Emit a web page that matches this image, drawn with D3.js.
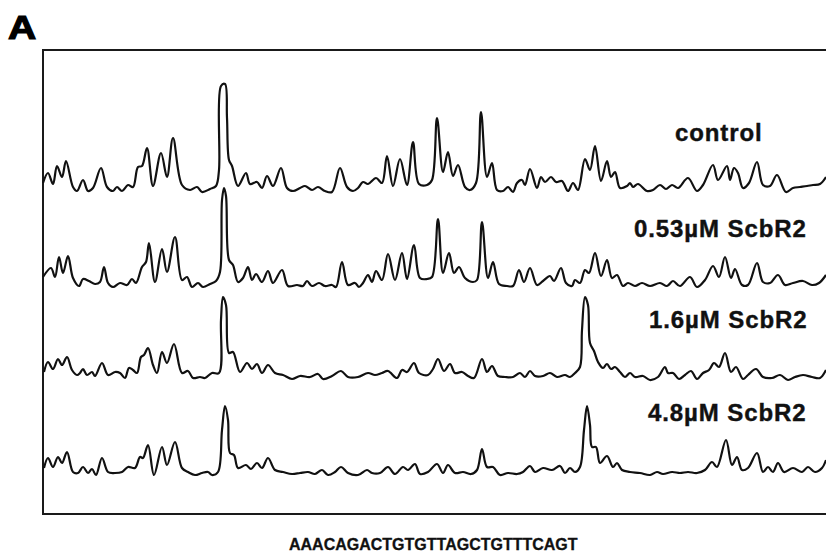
<!DOCTYPE html>
<html>
<head>
<meta charset="utf-8">
<script src="https://cdn.jsdelivr.net/npm/d3@7"></script>
<style>
  body { margin: 0; background: #fff; }
  svg { display: block; font-family: "Liberation Sans", Arial, sans-serif; }
</style>
</head>
<body>
<div id="chart"></div>
<script>
// trace labels (top to bottom)
const labels = ["control", "0.53\u00b5M ScbR2", "1.6\u00b5M ScbR2", "4.8\u00b5M ScbR2"];
const sequence = "AAACAGACTGTGTTAGCTGTTTCAGT";

// traces: [scan position, signal]
const control = [[0,12],[5,22],[10,11],[14,29],[19,18],[23,34],[30,8],[34,4],[40,15],[45,4],[50,7],[58,27],[64,8],[70,4],[74,8],[79,4],[85,10],[90,8],[95,28],[99,29],[104,47],[110,9],[118,42],[124,18],[130,57],[139,10],[147,5],[154,8],[159,3],[167,6],[173,9],[176,25],[178,109],[182,111],[184,77],[186,35],[189,29],[195,9],[203,22],[207,11],[214,13],[219,7],[224,19],[230,9],[238,27],[244,7],[250,4],[257,7],[262,9],[269,5],[275,8],[282,4],[289,3],[297,27],[304,8],[310,4],[315,7],[320,13],[325,11],[333,17],[339,12],[344,39],[350,9],[357,36],[364,10],[370,53],[376,11],[384,10],[389,15],[394,77],[400,23],[405,43],[410,19],[415,30],[422,8],[427,5],[433,12],[438,83],[444,18],[449,32],[454,5],[460,4],[465,8],[470,3],[474,12],[479,15],[482,10],[487,26],[494,7],[498,18],[502,13],[508,18],[513,13],[519,14],[525,4],[530,12],[535,5],[542,36],[547,25],[552,49],[558,14],[564,34],[568,18],[572,23],[577,7],[584,9],[587,12],[590,8],[595,11],[604,4],[610,5],[617,10],[623,6],[629,10],[635,7],[645,17],[654,4],[660,10],[670,30],[675,15],[684,29],[687,15],[691,27],[695,22],[700,7],[706,12],[714,33],[720,10],[727,9],[734,20],[743,3],[750,7],[757,8],[764,9],[770,10],[777,11],[783,18]];

const scbr053 = [[0,13],[8,22],[12,13],[16,33],[20,17],[25,34],[30,12],[36,4],[40,11],[46,9],[52,6],[57,8],[61,23],[65,7],[70,3],[77,7],[84,5],[89,11],[93,7],[99,23],[103,28],[106,47],[112,8],[119,41],[124,18],[132,53],[139,10],[144,13],[149,3],[155,7],[160,3],[167,6],[173,9],[177,18],[179,90],[181,102],[183,94],[186,30],[190,25],[195,8],[200,12],[205,23],[209,10],[213,16],[219,8],[225,19],[230,7],[239,20],[245,4],[254,5],[260,4],[264,9],[269,4],[276,7],[282,4],[289,5],[293,3],[299,28],[305,5],[312,7],[316,3],[320,7],[325,15],[329,8],[333,19],[339,10],[345,36],[352,10],[359,37],[364,11],[371,45],[377,12],[384,11],[389,13],[395,71],[400,17],[406,37],[411,17],[416,23],[422,12],[430,8],[434,10],[439,68],[445,12],[450,28],[456,6],[464,4],[470,4],[476,20],[481,8],[487,22],[494,5],[500,9],[507,14],[511,9],[518,22],[523,7],[529,4],[532,10],[537,7],[542,20],[546,17],[552,37],[558,14],[564,30],[569,12],[574,15],[580,4],[585,7],[592,4],[599,7],[607,4],[617,7],[624,4],[630,9],[637,4],[647,13],[654,3],[662,10],[670,24],[676,13],[682,33],[688,12],[692,21],[699,5],[705,5],[714,27],[720,8],[727,7],[735,15],[742,5],[750,7],[760,9],[769,5],[776,7],[783,15]];

const scbr16 = [[1,11],[5,21],[10,14],[15,24],[19,18],[24,26],[29,13],[34,8],[37,10],[40,14],[44,8],[49,11],[52,7],[59,20],[65,8],[72,11],[77,10],[82,5],[86,15],[90,13],[94,10],[98,26],[101,28],[105,35],[110,18],[114,10],[119,31],[124,20],[131,39],[139,10],[145,12],[150,5],[157,6],[162,5],[169,10],[176,10],[178,63],[180,86],[183,78],[186,30],[190,31],[197,11],[204,20],[209,14],[214,19],[219,10],[225,18],[232,10],[240,8],[249,4],[257,7],[267,6],[275,9],[280,4],[289,7],[298,12],[305,6],[315,6],[325,10],[332,8],[339,10],[345,12],[354,5],[359,13],[364,11],[371,20],[376,10],[385,8],[390,14],[395,24],[401,12],[407,19],[412,10],[419,11],[425,7],[431,5],[439,24],[444,11],[449,17],[455,7],[462,6],[470,6],[477,10],[482,6],[487,12],[492,7],[500,7],[507,10],[514,6],[522,8],[527,6],[532,10],[537,16],[539,53],[542,86],[545,78],[547,40],[551,32],[555,21],[560,15],[564,19],[568,14],[572,16],[577,11],[582,6],[587,10],[592,6],[600,7],[607,3],[615,6],[622,16],[625,10],[630,10],[636,4],[642,8],[648,12],[654,4],[660,10],[666,13],[671,20],[676,16],[682,30],[688,11],[693,16],[700,4],[705,8],[713,14],[720,6],[729,5],[737,8],[745,3],[752,6],[760,8],[769,6],[777,5],[783,13]];

const scbr48 = [[1,10],[5,20],[10,11],[15,21],[19,15],[24,26],[30,6],[35,5],[40,11],[45,5],[49,9],[53,3],[59,20],[65,6],[72,5],[79,6],[85,11],[92,10],[97,21],[100,20],[105,33],[111,3],[119,31],[124,13],[132,36],[139,10],[145,6],[152,3],[159,5],[165,6],[169,3],[175,6],[179,48],[182,72],[185,58],[187,25],[191,23],[195,10],[203,13],[208,9],[214,15],[219,10],[225,20],[232,8],[240,6],[249,4],[257,5],[265,6],[272,4],[279,8],[285,3],[292,6],[298,11],[305,5],[315,3],[324,8],[329,5],[337,5],[345,11],[352,4],[360,11],[365,8],[372,14],[377,4],[385,6],[394,14],[400,5],[405,13],[412,5],[420,6],[428,4],[434,8],[439,29],[444,11],[450,11],[457,3],[465,5],[474,4],[480,6],[487,12],[492,6],[500,10],[509,8],[517,12],[522,5],[527,10],[532,6],[537,11],[541,48],[544,72],[547,53],[549,31],[553,31],[557,15],[564,22],[570,11],[574,15],[579,8],[587,6],[597,5],[607,3],[614,6],[620,4],[629,6],[637,5],[645,6],[654,5],[662,8],[669,16],[674,11],[683,38],[689,13],[694,21],[699,8],[705,10],[714,25],[720,6],[725,11],[730,6],[735,15],[741,6],[750,10],[759,6],[765,11],[772,6],[779,10],[783,18]];

const traces = [control, scbr053, scbr16, scbr48];

// layout
const W = 826, H = 553;
const box = {left: 43, top: 50, right: 832, bottom: 514};
const baselines = [195, 290, 383, 478];
const labelPos = [[675, 141], [634, 237], [649, 328], [648, 421]];

const svg = d3.select("#chart").append("svg")
    .attr("width", W)
    .attr("height", H);

// panel letter, wide and heavy like the original
svg.append("text")
    .attr("transform", "translate(8,39) scale(1.15,1)")
    .attr("font-size", 34).attr("font-weight", "bold")
    .attr("stroke", "#000").attr("stroke-width", 1.2)
    .text("A");

// frame
svg.append("rect")
    .attr("x", box.left).attr("y", box.top)
    .attr("width", box.right - box.left).attr("height", box.bottom - box.top)
    .attr("fill", "none").attr("stroke", "#1a1a1a").attr("stroke-width", 2);

const x = d3.scaleLinear().domain([0, 783]).range([box.left, 826]);

traces.forEach(function(d, i) {
  const y = d3.scaleLinear().domain([0, 120]).range([baselines[i], baselines[i] - 120]);
  const line = d3.line()
      .x(function(p) { return x(p[0]); })
      .y(function(p) { return y(p[1]); })
      .curve(d3.curveCatmullRom.alpha(0.5));
  svg.append("path")
      .datum(d)
      .attr("d", line)
      .attr("fill", "none")
      .attr("stroke", "#111")
      .attr("stroke-width", 2.2)
      .attr("stroke-linejoin", "round");

  svg.append("text")
      .attr("x", labelPos[i][0]).attr("y", labelPos[i][1])
      .attr("font-size", 24).attr("font-weight", "bold")
      .attr("letter-spacing", 0.9)
      .attr("fill", "#111").attr("stroke", "#111").attr("stroke-width", 0.4)
      .text(labels[i]);
});

// sequence under the frame
svg.append("text")
    .attr("x", 289).attr("y", 550)
    .attr("font-size", 16).attr("font-weight", "bold")
    .attr("fill", "#111").attr("stroke", "#111").attr("stroke-width", 0.3)
    .text(sequence);
</script>
</body>
</html>
